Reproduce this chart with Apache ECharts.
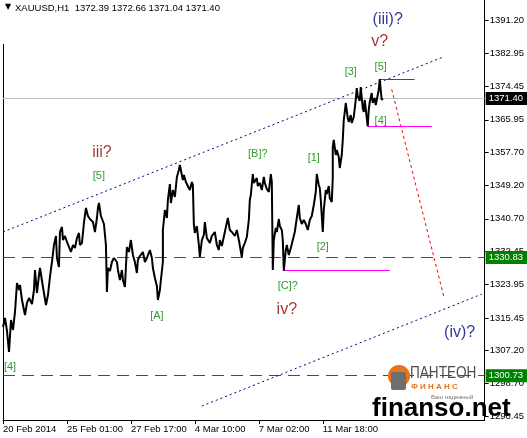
<!DOCTYPE html>
<html>
<head>
<meta charset="utf-8">
<script src="https://cdn.jsdelivr.net/npm/echarts@6/dist/echarts.min.js"></script>
<style>
html,body{margin:0;padding:0;background:#fff;}
#chart{width:527px;height:438px;}
</style>
</head>
<body>
<div id="chart"></div>
<script>
// XAUUSD H1, bar number (hours from the left edge) and price
var barIdx = [
  0,2,4,6,8,10,12,14,16,17, 19,22,24,26,29,31,32,34,36,37,
  40,43,45,47,49,51,53,54,56,57, 59,60,62,64,66,68,70,72,74,76,
  77,79,81,83,85,87,90,92,94,95, 96,98,101,103,104,105,107,109,111,114,
  115,117,119,120,122,124,126,128,130,132, 134,135,137,140,142,144,147,149,150,152,
  154,155,157,158,160,160,162,164,165,167, 168,170,172,174,176,177,180,181,183,185,
  187,189,190,191,192,194,196,197,199,201, 202,204,207,209,212,214,216,217,219,222,
  225,227,229,232,234,236,239,240,242,244, 246,247,248,250,251,254,255,257,259,261,
  262,264,266,268,269,270,271,273,274,276, 277,279,280,281,283,284,286,288,290,292,
  294,296,297,299,301,303,305,307,309,311, 313,314,316,317,318,320,321,323,324,326,
  327,329,330,330,331,333,334,336,337,339, 340,341,342,343,345,346,348,349,351,353,
  354,355,357,358,360,361,362,364,365,366, 367,369,370,372,373,375,376,377,378,379,
  380
];
var prices = [
  1313.14,1315.43,1312.12,1306.77,1314.93,1312.38,1316.97,1324.36,1322.57,1323.85, 1320.02,1316.20,1319.26,1320.53,1319.00,1322.57,1327.67,1321.81,1326.39,1328.18,
  1323.34,1318.75,1321.30,1325.89,1329.71,1334.04,1336.33,1330.73,1328.43,1337.35, 1338.63,1335.31,1336.33,1334.81,1335.31,1332.26,1334.04,1333.28,1335.82,1337.10,
  1334.04,1334.55,1339.65,1343.47,1341.43,1340.66,1339.90,1337.35,1340.92,1343.47, 1344.74,1341.43,1339.39,1334.04,1322.06,1328.18,1327.41,1329.71,1330.73,1329.71,
  1327.67,1325.12,1327.67,1325.12,1323.34,1333.53,1332.26,1335.31,1331.49,1329.71, 1326.90,1330.22,1331.24,1332.26,1329.71,1330.73,1332.76,1330.73,1328.18,1325.63,
  1323.59,1320.02,1322.57,1325.12,1329.71,1337.86,1342.96,1340.92,1345.51,1349.58, 1344.74,1348.05,1346.27,1351.37,1353.15,1354.43,1350.60,1351.88,1350.10,1350.60,
  1348.05,1350.10,1349.33,1339.14,1337.10,1338.88,1334.04,1330.98,1335.31,1336.59, 1339.90,1335.82,1334.55,1336.33,1337.35,1334.04,1332.76,1335.31,1333.79,1337.35,
  1340.92,1337.86,1337.35,1336.33,1337.86,1335.31,1330.98,1333.28,1334.55,1336.08, 1340.41,1345.51,1346.78,1352.13,1349.84,1351.11,1349.07,1349.84,1348.05,1351.37,
  1349.84,1348.31,1347.55,1352.13,1350.10,1327.67,1335.31,1338.37,1337.35,1340.66, 1338.88,1337.86,1335.31,1327.50,1332.76,1334.04,1331.49,1333.28,1335.31,1337.35,
  1340.92,1344.23,1340.92,1339.39,1340.41,1339.39,1337.86,1340.41,1341.43,1344.23, 1347.55,1352.13,1349.33,1348.56,1345.51,1337.35,1342.96,1348.05,1347.04,1349.07,
  1346.02,1345.00,1351.11,1359.01,1360.80,1356.98,1358.25,1356.47,1353.66,1356.98, 1360.80,1365.90,1367.93,1370.23,1366.41,1365.39,1367.17,1365.13,1366.66,1371.00,
  1374.05,1372.01,1370.74,1374.31,1368.96,1367.93,1371.00,1366.41,1364.30,1368.44, 1370.49,1372.78,1370.23,1371.50,1369.72,1372.27,1373.54,1376.30,1373.54,1371.00,
  1371.40
];

// axis ticks
var timeTicks = [0, 64, 128, 192, 256, 320];
var timeLabels = ['20 Feb 2014', '25 Feb 01:00', '27 Feb 17:00', '4 Mar 10:00', '7 Mar 02:00', '11 Mar 18:00'];
var priceTicks = [1391.20, 1382.95, 1374.45, 1365.95, 1357.70, 1349.20, 1340.70, 1332.45, 1323.95, 1315.45, 1307.20, 1298.70, 1290.45];

// levels and drawn lines  [bar, price] pairs
var bidPrice = 1371.40;
var supportLevels = [1330.83, 1300.73];
var upperChannel = [[0, 1337.35], [439, 1381.8]];
var lowerChannel = [[199, 1293.0], [479, 1321.5]];
var forecastLine = [[389, 1373.7], [441, 1321.0]];
var wave5Line = [[377, 1376.3], [412, 1376.3]];
var wave4Line = [[365, 1364.3], [429, 1364.3]];
var waveCLine = [[281, 1327.5], [387, 1327.5]];

// wave labels [bar, price, text]
var minorWaves = [
  [96, 1351.70, '[5]'], [7, 1303.02, '[4]'], [154, 1315.95, '[A]'], [255, 1357.23, '[B]?'],
  [285, 1323.67, '[C]?'], [311, 1356.29, '[1]'], [320, 1333.61, '[2]'], [348, 1378.05, '[3]'],
  [378, 1365.64, '[4]'], [378, 1379.48, '[5]']
];
var intermediateWaves = [[99, 1357.56, 'iii?'], [284, 1317.47, 'iv?'], [377, 1385.77, 'v?']];
var primaryWaves = [[385, 1391.38, '(iii)?'], [457, 1311.79, '(iv)?']];

var font = 'Liberation Sans, Arial, sans-serif';

function seg(pts, color, type, width) {
    return [
        {coord: pts[0], lineStyle: {color: color, type: type, width: width || 1}},
        {coord: pts[1]}
    ];
}
function level(v, color, type, boxColor) {
    return {
        yAxis: v,
        lineStyle: {color: color, type: type, width: 1},
        label: {
            show: true, position: 'end', distance: 1,
            formatter: v.toFixed(2), color: '#fff', backgroundColor: boxColor,
            padding: [2, 4, 1, 3], fontFamily: font, fontSize: 9.5
        }
    };
}
function waveSeries(list, color, size) {
    return {
        type: 'scatter', symbolSize: 1, silent: true, z: 6,
        itemStyle: {color: 'transparent'},
        data: list,
        label: {
            show: true, position: 'inside', color: color,
            fontFamily: font, fontSize: size,
            formatter: function (p) { return p.value[2]; }
        }
    };
}

var priceData = barIdx.map(function (b, i) { return [b, prices[i]]; });

var option = {
    animation: false,
    backgroundColor: '#fff',
    grid: {left: 3, right: 42, top: 0, bottom: 18},
    xAxis: {
        type: 'value', min: 0, max: 482,
        splitLine: {show: false},
        axisLine: {show: true, onZero: false, lineStyle: {color: '#000'}},
        axisTick: {show: true, length: 4, customValues: timeTicks, lineStyle: {color: '#000'}},
        axisLabel: {
            customValues: timeTicks, align: 'left', margin: 4,
            color: '#000', fontFamily: font, fontSize: 9.5,
            formatter: function (v) { return timeLabels[timeTicks.indexOf(v)]; }
        }
    },
    yAxis: {
        type: 'value', position: 'right', min: 1289.44, max: 1396.48,
        splitLine: {show: false},
        axisLine: {show: true, onZero: false, lineStyle: {color: '#000'}},
        axisTick: {show: true, length: 4, customValues: priceTicks, lineStyle: {color: '#000'}},
        axisLabel: {
            customValues: priceTicks, margin: 5,
            color: '#000', fontFamily: font, fontSize: 9.5,
            formatter: function (v) { return v.toFixed(2); }
        }
    },
    series: [
        {
            type: 'line', data: priceData, showSymbol: false, silent: true, z: 5,
            lineStyle: {color: '#000', width: 2},
            markLine: {
                silent: true, symbol: ['none', 'none'], animation: false,
                label: {show: false},
                data: [
                    level(bidPrice, '#c0c0c0', 'solid', '#000'),
                    level(supportLevels[0], '#008000', [12, 7], '#008000'),
                    level(supportLevels[1], '#008000', [12, 7], '#008000'),
                    seg(upperChannel, '#000080', [2, 3]),
                    seg(lowerChannel, '#000080', [2, 3]),
                    seg(forecastLine, '#ff0000', [3, 3]),
                    seg(wave5Line, '#ff0000', 'solid'),
                    seg(wave4Line, '#ff00ff', 'solid'),
                    seg(waveCLine, '#ff00ff', 'solid')
                ]
            }
        },
        waveSeries(minorWaves, '#008000', 11),
        waveSeries(intermediateWaves, '#8b0000', 16),
        waveSeries(primaryWaves, '#00008b', 16)
    ],
    graphic: [
        {type: 'line', shape: {x1: 3.5, y1: 44, x2: 3.5, y2: 420}, style: {stroke: '#000', lineWidth: 1}},
        {type: 'text', left: 5, top: 3, style: {text: '▼', fontSize: 8, fill: '#000', fontFamily: 'DejaVu Sans'}},
        {type: 'text', left: 15, top: 3, style: {text: 'XAUUSD,H1  1372.39 1372.66 1371.04 1371.40', fontSize: 9.5, fill: '#000', fontFamily: font}},
        // watermark
        {type: 'circle', shape: {cx: 399, cy: 376, r: 11}, style: {fill: '#e8741e'}, z: 10},
        {type: 'rect', shape: {x: 391, y: 372, width: 15, height: 18, r: 2}, style: {fill: '#6e6e6e'}, z: 10},
        {type: 'text', x: 410, y: 366, scaleX: 0.85, style: {text: 'ПАНТЕОН', fontSize: 16, fill: '#4d4d4d', fontFamily: font}, z: 10},
        {type: 'text', x: 411, y: 383, style: {text: 'Ф И Н А Н С', fontSize: 8, fontWeight: 'bold', fill: '#e8741e', fontFamily: font}, z: 10},
        {type: 'text', x: 431, y: 394, style: {text: 'Ваш надежный', fontSize: 6, fill: '#777', fontFamily: font}, z: 10},
        {type: 'text', x: 372, y: 396, style: {text: 'finanso.net', fontSize: 26, fontWeight: 'bold', fill: '#000', fontFamily: font}, z: 11}
    ]
};

echarts.init(document.getElementById('chart')).setOption(option);
</script>
</body>
</html>
